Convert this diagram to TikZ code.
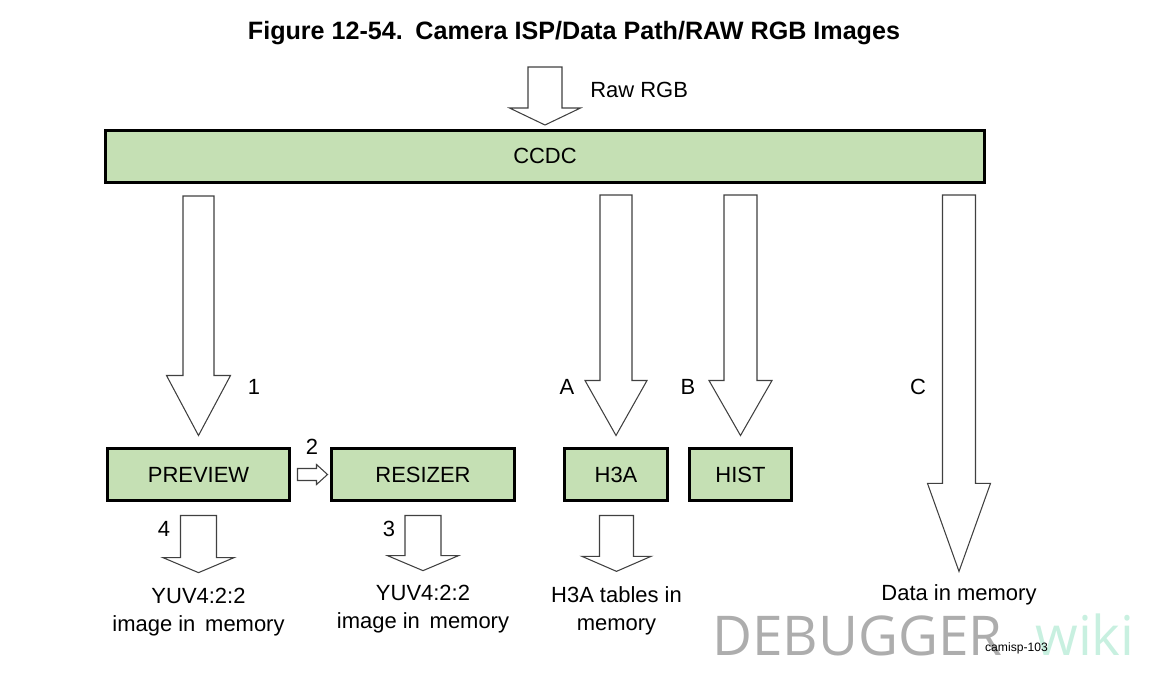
\documentclass[tikz,border=0pt]{standalone}
\usepackage{fontspec}
\setmainfont{Liberation Sans}
\newfontfamily\wmfont{Open Sans}
\usepackage{xcolor}
\usepackage{tikz}
\usetikzlibrary{calc}
\usetikzlibrary{positioning}

\definecolor{ispgreen}{RGB}{197,224,180}
\definecolor{wikimint}{RGB}{200,240,224}

\tikzset{
	block/.style={draw=black,line width=1.7pt,fill=ispgreen,minimum height=1.04cm,font=\fontsize{12.5}{15}\selectfont},
	fat/.style={draw=black!75,line width=0.6pt,fill=white},
	lbl/.style={font=\fontsize{12.5}{16}\selectfont,align=center,inner sep=0pt},
}

% block arrow pointing down: top, tip, half shaft, half head, head length
\newcommand{\fatdown}[5]{%
	\draw[fat] let \p1=#1, \p2=#2 in
		(\x2-#3,\y1) -- (\x2+#3,\y1) -- (\x2+#3,\y2+#5) -- (\x2+#4,\y2+#5)
		-- (\x2,\y2) -- (\x2-#4,\y2+#5) -- (\x2-#3,\y2+#5) -- cycle;}
% block arrow pointing right: tail, tip, half shaft, half head, head length
\newcommand{\fatright}[5]{%
	\draw[fat] let \p1=#1, \p2=#2 in
		(\x1,\y1-#3) -- (\x2-#5,\y1-#3) -- (\x2-#5,\y1-#4) -- (\x2,\y1)
		-- (\x2-#5,\y1+#4) -- (\x2-#5,\y1+#3) -- (\x1,\y1+#3) -- cycle;}

\begin{document}
\begin{tikzpicture}
		\useasboundingbox (0,0) rectangle (23,-13.5);
		\node (title) at (11.48,-0.66) {\bfseries\fontsize{14.3}{17}\selectfont Figure 12-54.\hspace{0.5em}Camera ISP/Data Path/RAW RGB Images};
		% boxes
		\node[block,minimum width=17.58cm] (ccdc) at (10.9,-3.12) {CCDC};
		\node[block,minimum width=3.64cm] (preview) at (3.97,-9.49) {PREVIEW};
		\node[block,minimum width=3.66cm] (resizer) at (8.46,-9.49) {RESIZER};
		\node[block,minimum width=2.06cm] (hthreea) at (12.32,-9.49) {H3A};
		\node[block,minimum width=2.04cm] (hist) at (14.81,-9.49) {HIST};
		% texts
		\node[lbl,anchor=west] (rawrgb) at (11.8,-1.8) {Raw RGB};
		\coordinate (rawtop) at (10.9,-1.34);
		\node[lbl] (cmem) at (19.18,-11.9) {Data in memory};
		\node[lbl] (yuvprev) at (3.97,-12.24) {YUV4:2:2\\image in\, memory};
		\node[lbl] (yuvres) at (8.46,-12.18) {YUV4:2:2\\image in\, memory};
		\node[lbl] (htables) at (12.33,-12.22) {H3A tables in\\memory};
		\node[lbl] (one) at (5.08,-7.74) {1};
		\node[lbl] (two) at (6.24,-8.94) {2};
		\node[lbl] (three) at (7.78,-10.58) {3};
		\node[lbl] (four) at (3.28,-10.58) {4};
		\node[lbl] (la) at (11.34,-7.74) {A};
		\node[lbl] (lb) at (13.76,-7.74) {B};
		\node[lbl] (lc) at (18.36,-7.74) {C};
		% arrows
		\fatdown{(rawtop)}{($(ccdc.north)+(0,0.07)$)}{0.34cm}{0.71cm}{0.34cm}
		\fatdown{($(ccdc.south -| preview.north)+(0,-0.25)$)}{($(preview.north)+(0,0.23)$)}{0.31cm}{0.64cm}{1.2cm}
		\fatdown{($(ccdc.south -| hthreea.north)+(0,-0.23)$)}{($(hthreea.north)+(0,0.23)$)}{0.32cm}{0.62cm}{1.1cm}
		\fatdown{($(ccdc.south -| hist.north)+(0,-0.23)$)}{($(hist.north)+(0,0.23)$)}{0.33cm}{0.63cm}{1.1cm}
		\fatdown{($(ccdc.south -| cmem.north)+(0,-0.23)$)}{($(cmem.north)+(0,0.26)$)}{0.33cm}{0.63cm}{1.76cm}
		\fatright{($(preview.east)+(0.13,0)$)}{($(resizer.west)+(-0.05,0)$)}{0.12cm}{0.2cm}{0.22cm}
		\fatdown{($(preview.south)+(0,-0.27)$)}{($(yuvprev.north)+(0,0.3)$)}{0.36cm}{0.71cm}{0.3cm}
		\fatdown{($(resizer.south)+(0,-0.27)$)}{($(yuvres.north)+(0,0.28)$)}{0.36cm}{0.71cm}{0.3cm}
		\fatdown{($(hthreea.south)+(0,-0.27)$)}{($(htables.north)+(0,0.3)$)}{0.34cm}{0.69cm}{0.3cm}
		% watermark
		\node[anchor=base west,inner sep=0pt,text=black!32] (debugger) at (14.24,-13.1) {\wmfont\fontsize{31.2}{33}\selectfont DEBUGGER};
		\node[anchor=base west,inner sep=0pt,text=wikimint] (wiki) at (20.7,-13.1) {\wmfont\fontsize{31.2}{33}\selectfont wiki};
		\node[inner sep=0pt] (tag) at (20.33,-12.96) {\fontsize{6.9}{8}\selectfont camisp-103};
	\end{tikzpicture}
\end{document}
